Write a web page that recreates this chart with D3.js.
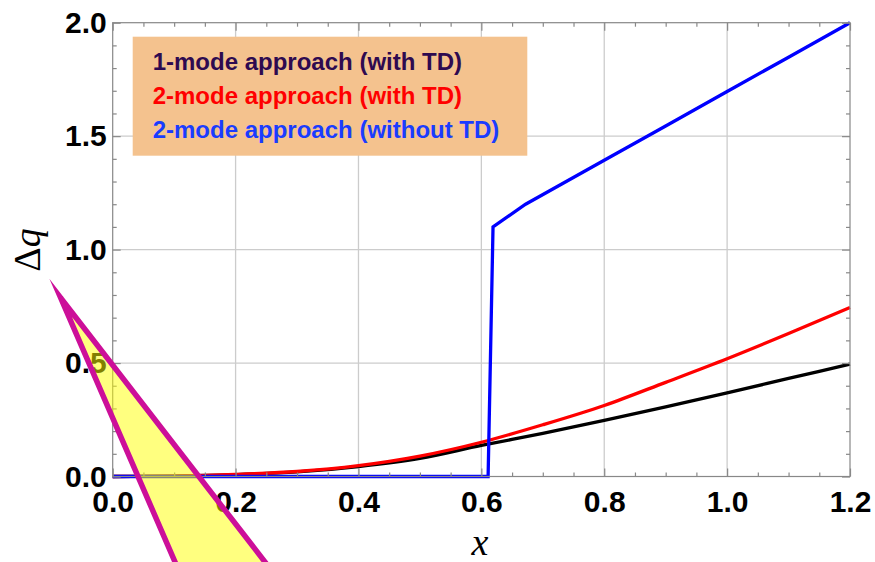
<!DOCTYPE html>
<html>
<head>
<meta charset="utf-8">
<script src="https://cdn.jsdelivr.net/npm/d3@7"></script>
<style>
  body { margin: 0; background: #fff; }
  svg { display: block; }
</style>
</head>
<body>
<svg></svg>
<script>
// values
var xsSmooth = [0, 0.1, 0.2, 0.3, 0.4, 0.5, 0.6, 0.7, 0.8, 0.9, 1.0, 1.1, 1.2]
var oneModeTD = [0, 0.002, 0.008, 0.02, 0.044, 0.08, 0.137, 0.19, 0.247, 0.307, 0.369, 0.432, 0.495]
var twoModeTD = [0, 0.002, 0.009, 0.022, 0.048, 0.09, 0.151, 0.228, 0.313, 0.415, 0.519, 0.63, 0.745]
var xsNoTD = [0, 0.611, 0.619, 0.672, 0.8, 0.9, 1.0, 1.1, 1.2]
var twoModeNoTD = [0, 0, 1.1, 1.2, 1.394, 1.545, 1.697, 1.848, 2.0]

var xTicks = [0, 0.2, 0.4, 0.6, 0.8, 1.0, 1.2]
var yTicks = [0, 0.5, 1.0, 1.5, 2.0]
var legendNames = ['1-mode approach (with TD)', '2-mode approach (with TD)', '2-mode approach (without TD)']
var legendColors = ['#2e0a50', '#ff0000', '#1a3cff']
var lineColors = ['#000000', '#ff0000', '#0000ff']

// overlay triangle (data coords)
var triangle = [[-0.0848, 0.788], [0.1141, -0.456], [0.2705, -0.456]]

var W = 875, H = 562
var padL = 112.7, padR = 850, padT = 22.7, padB = 476.5

var svg = d3.select('svg').attr('width', W).attr('height', H)

var x = d3.scaleLinear().domain([0, 1.2]).range([padL, padR])
var y = d3.scaleLinear().domain([0, 2]).range([padB, padT])

var minorX = d3.range(0, 1.2001, 0.05).filter(function (v) { return Math.abs(v * 5 - Math.round(v * 5)) > 1e-6 })
var minorY = d3.range(0, 2.0001, 0.1).filter(function (v) { return Math.abs(v * 2 - Math.round(v * 2)) > 1e-6 })

// grid
svg.append('g').selectAll('line').data(xTicks.slice(1, -1)).enter().append('line')
    .attr('x1', function (d) { return x(d) }).attr('x2', function (d) { return x(d) })
    .attr('y1', padT).attr('y2', padB)
    .attr('stroke', '#cccccc').attr('stroke-width', 1.3)
svg.append('g').selectAll('line').data(yTicks.slice(1, -1)).enter().append('line')
    .attr('y1', function (d) { return y(d) }).attr('y2', function (d) { return y(d) })
    .attr('x1', padL).attr('x2', padR)
    .attr('stroke', '#cccccc').attr('stroke-width', 1.3)

// curves
svg.append('clipPath').attr('id', 'clip').append('rect')
    .attr('x', padL - 3).attr('y', padT - 3).attr('width', padR - padL + 6).attr('height', padB - padT + 6)

var line = d3.line().x(function (d) { return x(d[0]) }).y(function (d) { return y(d[1]) })
var line2 = d3.line().curve(d3.curveMonotoneX).x(function (d) { return x(d[0]) }).y(function (d) { return y(d[1]) })
var series = [
    d3.zip(xsSmooth, oneModeTD),
    d3.zip(xsSmooth, twoModeTD),
    d3.zip(xsNoTD, twoModeNoTD)
]
series.forEach(function (s, i) {
    svg.append('path')
        .attr('d', i == 2 ? line(s) : line2(s))
        .attr('clip-path', 'url(#clip)')
        .attr('fill', 'none')
        .attr('stroke', lineColors[i])
        .attr('stroke-width', 3.3)
})

// frame
svg.append('rect').attr('x', padL).attr('y', padT).attr('width', padR - padL).attr('height', padB - padT)
    .attr('fill', 'none').attr('stroke', '#888').attr('stroke-width', 1.2)

function axisStyle(g) {
    g.select('.domain').remove()
    g.selectAll('.tick line').attr('stroke', '#888').attr('stroke-width', 1.2)
    g.selectAll('.tick text')
        .attr('font-family', '"Liberation Sans", Arial, sans-serif')
        .attr('font-weight', 'bold').attr('font-size', 30).attr('fill', '#000')
}

svg.append('g').attr('transform', 'translate(0,' + padB + ')')
    .call(d3.axisBottom(x).tickValues(xTicks).tickSizeInner(-8).tickSizeOuter(0).tickPadding(14).tickFormat(d3.format('.1f')))
    .call(axisStyle)
svg.append('g').attr('transform', 'translate(0,' + padB + ')')
    .call(d3.axisBottom(x).tickValues(minorX).tickSizeInner(-4).tickSizeOuter(0).tickFormat(''))
    .call(axisStyle)
svg.append('g').attr('transform', 'translate(' + padL + ',0)')
    .call(d3.axisLeft(y).tickValues(yTicks).tickSizeInner(-8).tickSizeOuter(0).tickPadding(6).tickFormat(d3.format('.1f')))
    .call(axisStyle)
svg.append('g').attr('transform', 'translate(' + padL + ',0)')
    .call(d3.axisLeft(y).tickValues(minorY).tickSizeInner(-4).tickSizeOuter(0).tickFormat(''))
    .call(axisStyle)
svg.append('g').attr('transform', 'translate(0,' + padT + ')')
    .call(d3.axisTop(x).tickValues(xTicks).tickSizeInner(-8).tickSizeOuter(0).tickFormat(''))
    .call(axisStyle)
svg.append('g').attr('transform', 'translate(0,' + padT + ')')
    .call(d3.axisTop(x).tickValues(minorX).tickSizeInner(-4).tickSizeOuter(0).tickFormat(''))
    .call(axisStyle)
svg.append('g').attr('transform', 'translate(' + padR + ',0)')
    .call(d3.axisRight(y).tickValues(yTicks).tickSizeInner(-8).tickSizeOuter(0).tickFormat(''))
    .call(axisStyle)
svg.append('g').attr('transform', 'translate(' + padR + ',0)')
    .call(d3.axisRight(y).tickValues(minorY).tickSizeInner(-4).tickSizeOuter(0).tickFormat(''))
    .call(axisStyle)

// axis titles
svg.append('text')
    .attr('transform', 'translate(40,250) rotate(-90)')
    .attr('text-anchor', 'middle')
    .attr('font-family', '"Liberation Serif", "Times New Roman", serif')
    .attr('font-size', 38)
    .html('Δ<tspan font-style="italic">q</tspan>')
svg.append('text')
    .attr('x', 480).attr('y', 555)
    .attr('text-anchor', 'middle')
    .attr('font-family', '"Liberation Serif", "Times New Roman", serif')
    .attr('font-style', 'italic')
    .attr('font-size', 38)
    .text('x')

// legend
svg.append('rect').attr('x', 132.7).attr('y', 36.7).attr('width', 394.6).attr('height', 119)
    .attr('fill', '#f4c28e')
svg.append('g').selectAll('text').data(legendNames).enter().append('text')
    .attr('x', 152.7)
    .attr('y', function (d, i) { return 70 + i * 34 })
    .attr('font-family', '"Liberation Sans", Arial, sans-serif')
    .attr('font-weight', 'bold').attr('font-size', 24)
    .attr('fill', function (d, i) { return legendColors[i] })
    .text(function (d) { return d })

// overlay triangle
svg.append('polygon')
    .attr('points', triangle.map(function (p) { return x(p[0]) + ',' + y(p[1]) }).join(' '))
    .attr('fill', 'rgba(255,255,0,0.5)')
    .attr('stroke', '#cc0f99')
    .attr('stroke-width', 5.5)
    .attr('stroke-linejoin', 'miter')
    .attr('stroke-miterlimit', 12)
</script>
</body>
</html>
